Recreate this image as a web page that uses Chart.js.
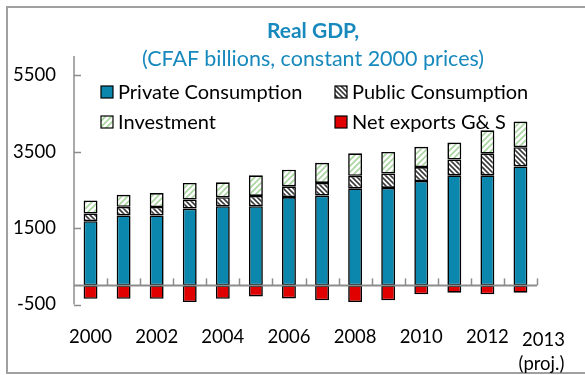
<!DOCTYPE html>
<html>
<head>
<meta charset="utf-8">
<script src="https://cdn.jsdelivr.net/npm/chart.js@4/dist/chart.umd.min.js"></script>
<style>
  html, body { margin:0; padding:0; background:#fff; }
  #wrap { position:relative; width:585px; height:375px; overflow:hidden; font-family:Lato, 'Open Sans', sans-serif; }
  #frame { position:absolute; left:6px; top:6px; width:600px; height:368px; border:2px solid #a0a0a0; box-sizing:border-box; }
  #chartGDP { position:absolute; left:0; top:0; }
  .ttl { position:absolute; left:0; width:626px; text-align:center; color:#1789bd; white-space:nowrap; }
  #t1 { top:17px; font-size:21px; font-weight:bold; }
  #t2 { top:45px; font-size:21.5px; }
</style>
</head>
<body>
<div id="wrap">
  <div id="frame"></div>
  <canvas id="chartGDP" width="585" height="375"></canvas>
  <div id="t1" class="ttl">Real GDP,</div>
  <div id="t2" class="ttl">(CFAF billions, constant 2000 prices)</div>
</div>
<script>
const years      = ['2000','2001','2002','2003','2004','2005','2006','2007','2008','2009','2010','2011','2012','2013']
const privCons   = [1680,1830,1830,2010,2070,2070,2310,2350,2540,2550,2730,2880,2880,3110]
const pubCons    = [ 200, 225, 220, 235, 235, 270, 280, 330, 325, 375, 365, 410, 565, 505]
const investment = [ 340, 315, 365, 435, 390, 540, 435, 525, 590, 565, 530, 445, 610, 670]
const netExports = [-350,-350,-350,-435,-350,-290,-340,-390,-435,-390,-235,-190,-235,-190]
const yTicks     = [-500, 1500, 3500, 5500]

const FONT = 'Lato, "Open Sans", sans-serif'
const AXIS = '#8c8c8c'

// hatch fills for the two striped series
function hatch(color, dir, gap, lw) {
  const c = document.createElement('canvas')
  c.width = gap; c.height = gap
  const g = c.getContext('2d')
  g.fillStyle = '#fff'; g.fillRect(0, 0, gap, gap)
  g.strokeStyle = color; g.lineWidth = lw
  g.beginPath()
  if (dir > 0) {
    g.moveTo(-1, gap + 1); g.lineTo(gap + 1, -1)
    g.moveTo(-1, 1); g.lineTo(1, -1)
    g.moveTo(gap - 1, gap + 1); g.lineTo(gap + 1, gap - 1)
  } else {
    g.moveTo(-1, -1); g.lineTo(gap + 1, gap + 1)
    g.moveTo(gap - 1, -1); g.lineTo(gap + 1, 1)
    g.moveTo(-1, gap - 1); g.lineTo(1, gap + 1)
  }
  g.stroke()
  return g.createPattern(c, 'repeat')
}
const ctx = document.getElementById('chartGDP')
const pubFill = hatch('#3a3a3a', -1, 5, 1.6)
const invFill = hatch('#a9d5a0', 1, 6, 1.6)

// legend, zero line, inward ticks and the 2013 label
const extras = {
  id: 'extras',
  afterDraw(chart) {
    const { ctx: g, chartArea: a, scales: { x, y } } = chart
    g.save()
    const y0 = y.getPixelForValue(0)
    g.strokeStyle = AXIS; g.lineWidth = 2
    g.beginPath(); g.moveTo(a.left, y0); g.lineTo(a.right, y0); g.stroke()
    g.lineWidth = 1.5
    for (let i = 1; i <= years.length; i++) {
      const px = Math.round(x.getPixelForValue(i - 0.5)) + 0.5
      g.beginPath(); g.moveTo(px, y0); g.lineTo(px, y0 - 7); g.stroke()
    }
    yTicks.forEach(v => {
      const py = Math.round(y.getPixelForValue(v)) + 0.5
      g.beginPath(); g.moveTo(a.left, py); g.lineTo(a.left + 7, py); g.stroke()
    })
    g.beginPath(); g.moveTo(a.left, a.top); g.lineTo(a.left, a.bottom); g.stroke()

    g.font = `20px ${FONT}`
    g.fillStyle = '#000'
    g.textBaseline = 'middle'
    const cols = [a.left + 27, a.left + 261]
    const rows = [a.top + 36, a.top + 66]
    chart.data.datasets.forEach((ds, i) => {
      const lx = cols[i % 2], ly = rows[Math.floor(i / 2)]
      g.fillStyle = ds.backgroundColor
      g.fillRect(lx, ly - 6, 12, 12)
      g.strokeStyle = '#000'; g.lineWidth = 1.2
      g.strokeRect(lx, ly - 6, 12, 12)
      g.fillStyle = '#000'
      g.textAlign = 'left'
      g.fillText(ds.label, lx + 17, ly + 1)
    })

    g.font = `18.5px ${FONT}`
    g.textAlign = 'center'
    const xl = x.getPixelForValue(years.length - 1) + 23
    g.fillText('2013', xl, 340)
    g.fillText('(proj.)', xl - 2, 364)
    g.restore()
  }
}

new Chart(ctx, {
  type: 'bar',
  data: {
    labels: years,
    datasets: [
      { label:'Private Consumption', data: privCons,   backgroundColor:'#0b87ae' },
      { label:'Public Consumption',  data: pubCons,    backgroundColor: pubFill },
      { label:'Investment',          data: investment, backgroundColor: invFill },
      { label:'Net exports G& S',    data: netExports, backgroundColor:'#e00000' },
    ]
  },
  options: {
    responsive:false, animation:false,
    layout:{ padding:{ left:0, right:48, top:56, bottom:0 } },
    datasets:{ bar:{ borderColor:'#000', borderWidth:1.6, barPercentage:0.42, categoryPercentage:1, borderSkipped:false } },
    plugins:{ legend:{ display:false }, tooltip:{ enabled:false } },
    scales:{
      x:{
        stacked:true,
        grid:{ display:false, drawTicks:false }, border:{ display:false },
        afterFit: s => { s.height = 70.5 },
        ticks:{
          autoSkip:false, maxRotation:0, padding:21, color:'#000',
          font:{ family:FONT, size:18.5 },
          callback:(v, i) => (i % 2 === 0 && i < years.length - 1) ? years[i] : ''
        }
      },
      y:{
        stacked:true, min:-500, max:6000,
        grid:{ display:false, drawTicks:false }, border:{ display:false },
        afterBuildTicks: s => { s.ticks = yTicks.map(v => ({ value:v })) },
        afterFit: s => { s.width = 74 },
        ticks:{ padding:18, color:'#000', font:{ family:FONT, size:18.5 }, callback: v => String(v) }
      }
    }
  },
  plugins:[extras]
})
</script>
</body>
</html>
